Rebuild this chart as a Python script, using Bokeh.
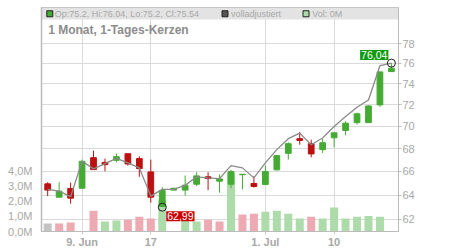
import math
from bokeh.plotting import figure
from bokeh.models import (Range1d, LinearAxis, FixedTicker, CustomJSTickFormatter,
                          Label, BoxAnnotation, ColumnDataSource, LinearScale)
from bokeh.embed import file_html
from bokeh.resources import INLINE

# ---------------- data ----------------
opens  = [64.94, 63.82, 64.55, 64.57, 67.20, 66.79, 66.97, 67.55, 67.12, 65.96,
          63.05, 64.41, 64.41, 64.91, 65.54, 65.17, 64.91, 65.72, 64.97, 64.89,
          66.14, 67.58, 68.89, 68.44, 67.91, 68.97, 69.63, 70.35, 70.35, 72.00, 75.20]
highs  = [65.08, 65.08, 65.05, 67.03, 67.82, 67.12, 67.55, 67.55, 67.32, 67.03,
          64.66, 64.60, 65.65, 65.93, 65.93, 65.74, 66.14, 65.76, 65.59, 66.51,
          67.44, 68.56, 69.49, 68.80, 68.86, 69.42, 70.48, 71.28, 71.95, 75.20, 76.04]
lows   = [63.91, 63.82, 63.28, 64.57, 66.16, 66.02, 66.79, 66.50, 65.54, 63.36,
          62.99, 64.38, 63.96, 64.74, 64.41, 64.19, 64.57, 64.47, 64.63, 64.89,
          66.09, 67.03, 68.35, 67.23, 67.61, 68.11, 69.20, 70.17, 70.33, 71.82, 75.20]
closes = [64.41, 64.32, 63.74, 66.88, 66.16, 66.59, 67.29, 66.65, 66.25, 63.82,
          64.38, 64.57, 64.83, 65.62, 65.39, 65.36, 65.99, 65.76, 64.72, 65.99,
          67.38, 68.44, 68.73, 67.53, 68.52, 69.42, 70.30, 71.16, 71.90, 75.17, 75.54]
adjusted = [64.47, 64.32, 63.86, 66.88, 66.22, 66.68, 67.14, 66.74, 66.31, 63.91,
            64.47, 64.47, 64.81, 65.54, 65.45, 65.39, 66.51, 66.31, 65.45, 66.74,
            67.91, 68.89, 69.39, 68.35, 68.95, 69.99, 70.91, 71.78, 72.46, 75.78, 76.04]
volume_m = [0.53, 0.53, 0.60, 0.00, 1.39, 0.66, 0.73, 0.79, 0.99, 0.86,
            2.12, 0.00, 0.80, 0.66, 0.79, 0.66, 3.92, 1.13, 1.19, 1.32,
            1.39, 1.19, 0.86, 0.99, 0.86, 1.60, 0.86, 0.99, 1.04, 0.99, 0.00]

x_tick_pos = [3, 9, 19, 25]
x_tick_labels = ["9. Jun", "17", "1. Jul", "10"]
price_ticks = [62, 64, 66, 68, 70, 72, 74, 76, 78]
vol_ticks_m = [0, 1, 2, 3, 4]

title_text = "1 Monat, 1-Tages-Kerzen"

# ---------------- styling / layout ----------------
GREEN = "#44aa33"
RED = "#bb1111"
VOL_UP = "#addcaa"
VOL_DN = "#eeaab2"
VOL_FIRST = "#c4c4c4"
TXT = "#a8a8a8"
FONT = "Liberation Sans"

X0, X1 = -0.54, 30.62
Y0, Y1 = 61.02, 81.77
FRAME_W, FRAME_H = 357, 225

def fx(px):  # frame pixel from left -> data x
    return X0 + px / FRAME_W * (X1 - X0)

def fy(py):  # frame pixel from top -> data y (log)
    return math.exp(math.log(Y1) - py / FRAME_H * (math.log(Y1) - math.log(Y0)))

n = len(opens)
idx = list(range(n))
cdl_col = [GREEN if c >= o else RED for o, c in zip(opens, closes)]
vol_col = [VOL_FIRST] + [VOL_UP if closes[i] >= closes[i - 1] else VOL_DN for i in range(1, n)]

src = ColumnDataSource(dict(
    x=idx, o=opens, h=highs, l=lows, c=closes,
    top=[max(o, c) for o, c in zip(opens, closes)],
    bot=[min(o, c) for o, c in zip(opens, closes)],
    col=cdl_col, vol=[v * 1e6 for v in volume_m], vcol=vol_col))

p = figure(width=450, height=250, output_backend="svg", toolbar_location=None,
           y_axis_type="log", y_axis_location="right",
           x_range=Range1d(X0, X1), y_range=Range1d(Y0, Y1),
           min_border_left=41, min_border_right=52, min_border_top=7, min_border_bottom=18)
p.background_fill_color = "white"
p.border_fill_color = "white"
p.outline_line_color = "#bbbbbb"

p.extra_y_ranges = {"vol": Range1d(0, 14.92e6)}
p.extra_y_scales = {"vol": LinearScale()}

# grids
p.xgrid[0].ticker = FixedTicker(ticks=x_tick_pos)
p.ygrid[0].ticker = FixedTicker(ticks=price_ticks)
for g in (p.xgrid[0], p.ygrid[0]):
    g.grid_line_color = "#dadada"
    g.grid_line_width = 1

# right price axis
ya = p.yaxis[0]
ya.ticker = FixedTicker(ticks=price_ticks)
ya.formatter = CustomJSTickFormatter(code="return tick.toFixed(0)")
ya.major_tick_out = 3
ya.major_tick_in = 0
ya.minor_tick_line_color = None
ya.major_tick_line_color = "#bbbbbb"
ya.axis_line_color = "#bbbbbb"
ya.major_label_standoff = 1
ya.major_label_text_color = TXT
ya.major_label_text_font = FONT
ya.major_label_text_font_size = "11px"

# bottom axis
xa = p.xaxis[0]
xa.ticker = FixedTicker(ticks=x_tick_pos)
xa.major_label_overrides = {k: v for k, v in zip(x_tick_pos, x_tick_labels)}
xa.major_tick_out = 3
xa.major_tick_in = 0
xa.minor_tick_line_color = None
xa.major_tick_line_color = "#cccccc"
xa.axis_line_color = "#bbbbbb"
xa.major_label_standoff = 1
xa.major_label_text_color = TXT
xa.major_label_text_font = FONT
xa.major_label_text_font_style = "bold"
xa.major_label_text_font_size = "11px"

# left volume axis
va = LinearAxis(y_range_name="vol",
                ticker=FixedTicker(ticks=[t * 1e6 for t in vol_ticks_m]),
                formatter=CustomJSTickFormatter(
                    code="return (tick/1e6).toFixed(1).replace('.', ',') + 'M'"))
va.major_tick_line_color = None
va.minor_tick_line_color = None
va.axis_line_color = "#bbbbbb"
va.axis_line_width = 1.5
va.major_label_standoff = 3
va.major_label_text_color = TXT
va.major_label_text_font = FONT
va.major_label_text_font_size = "11px"
p.add_layout(va, "left")

# legend band (under the glyphs)
p.add_layout(BoxAnnotation(bottom=fy(12), fill_color="#e3e3e3", fill_alpha=1,
                           line_color=None, level="underlay"))

# volume bars
p.vbar(x="x", top="vol", bottom=0, width=0.7, source=src, y_range_name="vol",
       fill_color="vcol", line_color=None)

# candles
p.segment(x0="x", y0="l", x1="x", y1="h", source=src, line_color="col", line_width=1)
p.vbar(x="x", top="top", bottom="bot", width=0.5, source=src,
       fill_color="col", line_color="col", line_width=1)

# adjusted line
p.line(idx, adjusted, line_color="#8a8a8a", line_width=1.3)

# high / low markers
imax = max(range(n), key=lambda i: highs[i])
imin = min(range(n), key=lambda i: lows[i])
p.scatter(x=[imax, imin], y=[highs[imax], lows[imin]], marker="circle", size=8,
          fill_color=None, line_color="#222222", line_width=1)

fmt = lambda v: f"{v:.2f}".replace(".", ",")
p.add_layout(Label(x=imax, y=highs[imax], text=fmt(highs[imax]),
                   text_align="right", text_baseline="bottom", x_offset=-3, y_offset=3,
                   text_color="white", text_font=FONT, text_font_size="10.5px",
                   background_fill_color="#119911", background_fill_alpha=1, padding=1))
p.add_layout(Label(x=imin, y=lows[imin], text=fmt(lows[imin]),
                   text_align="left", text_baseline="top", x_offset=4, y_offset=-4,
                   text_color="white", text_font=FONT, text_font_size="10.5px",
                   background_fill_color="#cc0000", background_fill_alpha=1, padding=1))

# legend
leg_y = fy(6.3)
leg_items = [
    (8.3, 13.3, GREEN,
     f"Op:{opens[-1]:g}, Hi:{highs[-1]:g}, Lo:{lows[-1]:g}, Cl:{closes[-1]:g}"),
    (183.5, 189.5, "#555555", "volladjustiert"),
    (264.5, 270.7, VOL_UP, f"Vol: {volume_m[-1]:.0f}M"),
]
p.scatter(x=[fx(a) for a, _, _, _ in leg_items], y=[leg_y] * 3, marker="square", size=6,
          fill_color=[c for _, _, c, _ in leg_items], line_color="#222222", line_width=1)
for _, tx, _, t in leg_items:
    p.add_layout(Label(x=fx(tx), y=leg_y, text=t, text_align="left",
                       text_baseline="middle", text_color=TXT, text_font=FONT,
                       text_font_size="9px"))

p.add_layout(Label(x=fx(6.7), y=fy(23), text=title_text, text_align="left",
                   text_baseline="middle", text_color="#8c8c8c", text_font=FONT,
                   text_font_style="bold", text_font_size="12px"))

open("out.html", "w").write(file_html(p, INLINE))
